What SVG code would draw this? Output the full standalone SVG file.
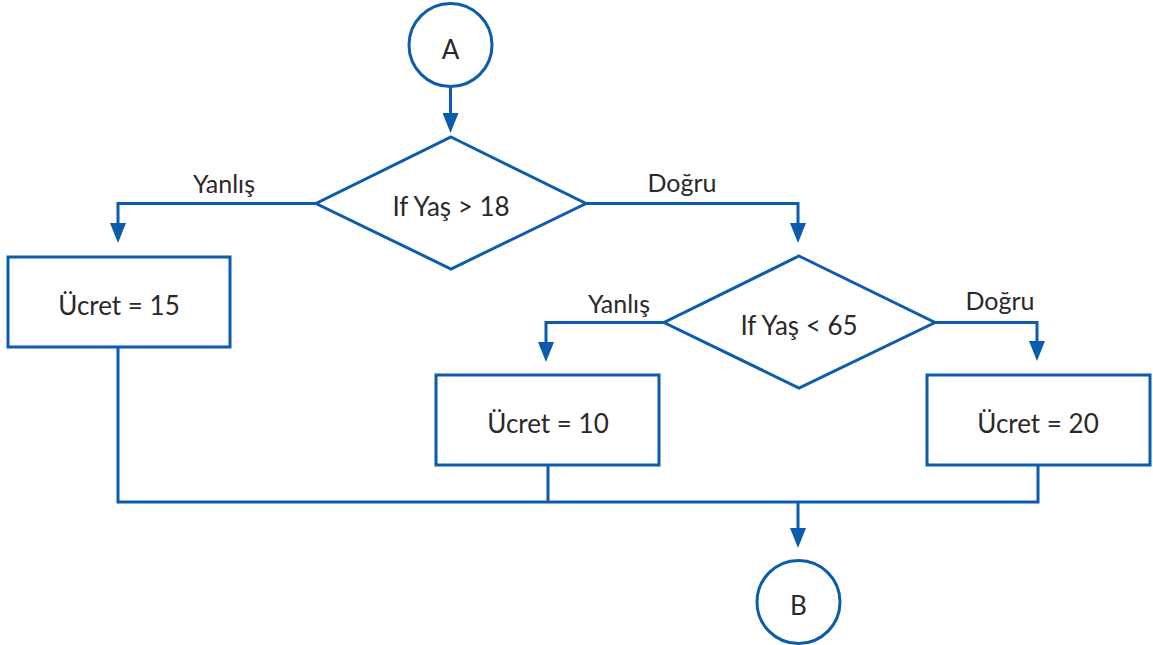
<svg xmlns="http://www.w3.org/2000/svg" width="1153" height="645" viewBox="0 0 1153 645">
<defs>
<style>
.s{fill:#fff;stroke:#0b5cab;stroke-width:3}
.c{fill:none;stroke:#0b5cab;stroke-width:3}
.t{font-family:Lato,"Noto Sans",sans-serif;font-size:26px;font-weight:400;fill:#2b2829;text-anchor:middle}
.l{font-family:Lato,"Noto Sans",sans-serif;font-size:25px;font-weight:400;fill:#2b2829;text-anchor:middle}
</style>
<marker id="ah" viewBox="0 0 20 16" refX="4" refY="8" markerWidth="20" markerHeight="16" markerUnits="userSpaceOnUse" orient="auto">
<path d="M0,0 L20,8 L0,16 z" fill="#0b5cab"/>
</marker>
</defs>
<g id="connectors">
<path class="c" d="M450.5,87 V117" marker-end="url(#ah)"/>
<path class="c" d="M316,203.5 H118 V227" marker-end="url(#ah)"/>
<path class="c" d="M586,203.5 H798 V227" marker-end="url(#ah)"/>
<path class="c" d="M664,322.5 H546 V346" marker-end="url(#ah)"/>
<path class="c" d="M935,322.5 H1037 V345" marker-end="url(#ah)"/>
<path class="c" d="M118,347 V502 H1038 V465"/>
<path class="c" d="M548,466 V502"/>
<path class="c" d="M798,502 V532" marker-end="url(#ah)"/>
<text class="l" x="224" y="193">Yanlış</text>
<text class="l" x="682" y="192">Doğru</text>
<text class="l" x="619" y="313">Yanlış</text>
<text class="l" x="1000" y="310">Doğru</text>
</g>
<g id="nodeA">
<circle class="s" cx="450.5" cy="45" r="41.5"/>
<text class="t" x="450.5" y="59">A</text>
</g>
<g id="dec1">
<polygon class="s" points="451,137 586,203.5 451,269 316,203.5"/>
<text class="t" x="451" y="216">If Yaş &gt; 18</text>
</g>
<g id="box15">
<rect class="s" x="8" y="257" width="222" height="90"/>
<text class="t" x="119" y="315">Ücret = 15</text>
</g>
<g id="dec2">
<polygon class="s" points="799,256 935,322.5 799,388 664,322.5"/>
<text class="t" x="799" y="335">If Yaş &lt; 65</text>
</g>
<g id="box10">
<rect class="s" x="436" y="375" width="223" height="90"/>
<text class="t" x="548" y="433">Ücret = 10</text>
</g>
<g id="box20">
<rect class="s" x="927" y="375" width="223" height="90"/>
<text class="t" x="1038" y="433">Ücret = 20</text>
</g>
<g id="nodeB">
<circle class="s" cx="798.5" cy="602" r="41.5"/>
<text class="t" x="798.5" y="615">B</text>
</g>
</svg>
